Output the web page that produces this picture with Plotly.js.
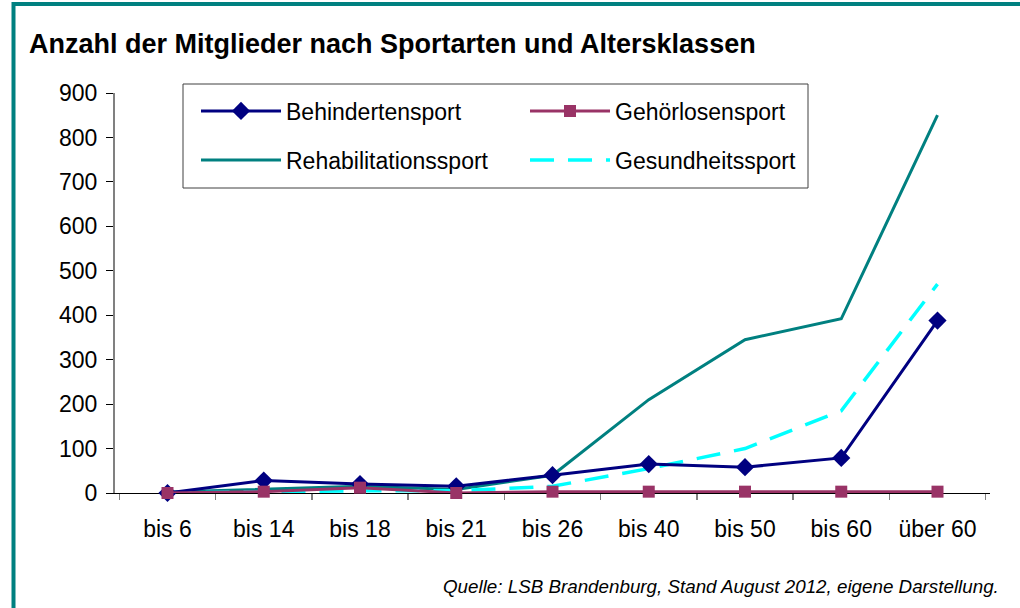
<!DOCTYPE html>
<html>
<head>
<meta charset="utf-8">
<script src="https://cdn.plot.ly/plotly-3.0.1.min.js"></script>
<style>html,body{margin:0;padding:0;background:#fff;}#chart{width:1020px;height:608px;}</style>
</head>
<body>
<div id="chart"></div>
<script>
const categories = ["bis 6", "bis 14", "bis 18", "bis 21", "bis 26", "bis 40", "bis 50", "bis 60", "über 60"];
const behindertensport = [0, 28, 20, 15, 40, 65, 58, 79, 388];
const gehoerlosensport = [0, 3, 12, 0, 3, 3, 3, 3, 3];
const rehabilitationssport = [2, 8, 15, 8, 40, 210, 345, 392, 850];
const gesundheitssport = [0, 2, 5, 5, 15, 55, 100, 185, 470];
const seriesNames = ["Behindertensport", "Gehörlosensport", "Rehabilitationssport", "Gesundheitssport"];
const yTicks = [0, 100, 200, 300, 400, 500, 600, 700, 800, 900];

const FONT = "Liberation Sans, Arial, sans-serif";

const traces = [
  {x: categories, y: rehabilitationssport, name: seriesNames[2], type: "scatter", mode: "lines",
   line: {color: "#008080", width: 3}, legend: "legend3", cliponaxis: false},
  {x: categories, y: gesundheitssport, name: seriesNames[3], type: "scatter", mode: "lines",
   line: {color: "#00FFFF", width: 3.5, dash: "24px,14px"}, legend: "legend4", cliponaxis: false},
  {x: categories, y: behindertensport, name: seriesNames[0], type: "scatter", mode: "lines+markers",
   line: {color: "#000080", width: 3}, marker: {symbol: "diamond", size: 14, color: "#000080"},
   legend: "legend", cliponaxis: false},
  {x: categories, y: gehoerlosensport, name: seriesNames[1], type: "scatter", mode: "lines+markers",
   line: {color: "#993366", width: 3}, marker: {symbol: "square", size: 12, color: "#993366"},
   legend: "legend2", cliponaxis: false}
];

function leg(px, py) {
  return {
    orientation: "v", xanchor: "left", yanchor: "middle",
    x: (px - 115) / 875, y: (493 - py) / 400,
    bgcolor: "rgba(0,0,0,0)", borderwidth: 0,
    font: {family: FONT, size: 23, color: "#000"},
    itemwidth: 80, itemclick: false, itemdoubleclick: false
  };
}

const layout = {
  width: 1020, height: 608,
  margin: {l: 115, r: 30, t: 93, b: 115},
  paper_bgcolor: "#fff", plot_bgcolor: "#fff",
  font: {family: FONT, size: 23, color: "#000"},
  title: {text: "<b>Anzahl der Mitglieder nach Sportarten und Altersklassen</b>",
          font: {family: FONT, size: 27, color: "#000"},
          x: 29 / 1020, xanchor: "left", xref: "container", y: 1 - 44 / 608, yanchor: "middle", yref: "container"},
  showlegend: true,
  legend: leg(196, 111),
  legend2: leg(525, 111),
  legend3: leg(196, 160),
  legend4: leg(525, 160),
  xaxis: {
    type: "category", categoryorder: "array", categoryarray: categories,
    showline: true, linecolor: "#000", linewidth: 1,
    ticks: "outside", tickson: "boundaries", ticklen: 6, tickcolor: "#808080", tickwidth: 1.5,
    ticklabelstandoff: 15,
    showgrid: false, zeroline: false, layer: "below traces",
    tickfont: {family: FONT, size: 23, color: "#000"}, automargin: false
  },
  yaxis: {
    range: [0, 900], tickvals: yTicks, ticktext: yTicks.map(String),
    showline: true, linecolor: "#808080", linewidth: 2,
    ticks: "outside", ticklen: 7, tickcolor: "#000", tickwidth: 1,
    ticklabelstandoff: 4,
    showgrid: false, zeroline: false, layer: "below traces",
    tickfont: {family: FONT, size: 23, color: "#000"}, automargin: false
  },
  shapes: [
    {type: "rect", xref: "paper", yref: "paper",
     x0: (183 - 115) / 875, x1: (808 - 115) / 875, y0: (493 - 188) / 400, y1: (493 - 84) / 400,
     line: {color: "#404040", width: 1}, fillcolor: "#fff", layer: "below"},
    {type: "path", xref: "paper", yref: "paper",
     path: "M " + ((13.5 - 115) / 875) + " " + ((493 - 620) / 400) +
           " L " + ((13.5 - 115) / 875) + " " + ((493 - 4) / 400) +
           " L " + ((1030 - 115) / 875) + " " + ((493 - 4) / 400),
     line: {color: "#008080", width: 4}, layer: "above"}
  ],
  annotations: [
    {text: "<i>Quelle: LSB Brandenburg, Stand August 2012, eigene Darstellung.</i>",
     xref: "paper", yref: "paper", x: (1001 - 115) / 875, y: (493 - 586) / 400,
     xanchor: "right", yanchor: "middle", showarrow: false,
     font: {family: FONT, size: 18.8, color: "#000"}}
  ]
};

Plotly.newPlot("chart", traces, layout, {displayModeBar: false, staticPlot: true});
</script>
</body>
</html>
